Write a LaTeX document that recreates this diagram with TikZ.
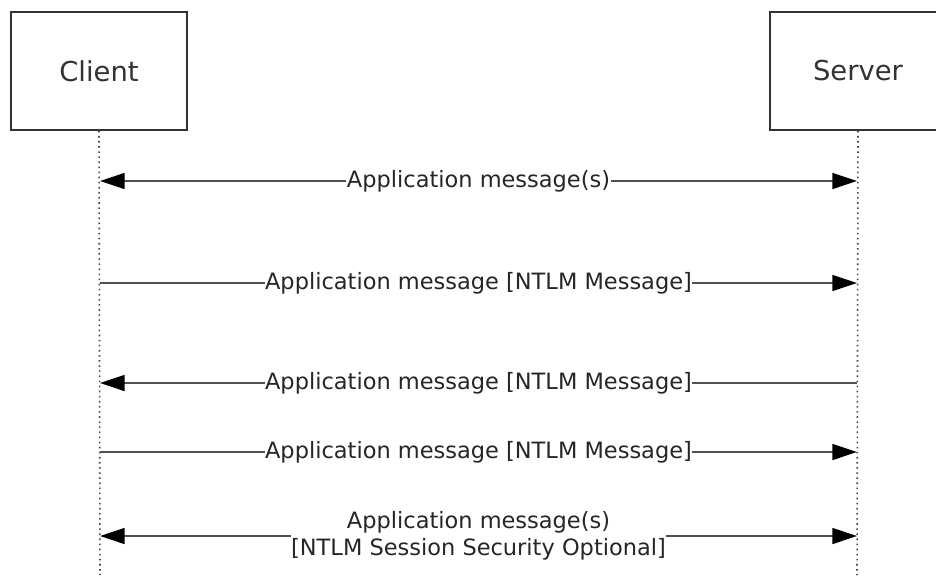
\documentclass[tikz,border=0pt]{standalone}
\usepackage{fontspec}
\setmainfont{DejaVu Sans}
\usetikzlibrary{arrows.meta}
\definecolor{lifegray}{RGB}{70,70,70}
\definecolor{msggray}{RGB}{80,80,80}

\begin{document}
\begin{tikzpicture}[x=0.02cm, y=-0.02cm,
    party/.style={rectangle, draw=black!80, line width=1pt, fill=white, minimum width=176*0.02cm, minimum height=118*0.02cm, font=\fontsize{15.6}{17}\selectfont, text=black!80},
    life/.style={lifegray, dotted, line width=0.9pt},
    msg/.style={msggray, line width=1.2pt, -{Triangle[length=14pt, width=9pt, black]}},
    bimsg/.style={msggray, line width=1.2pt, {Triangle[length=14pt, width=9pt, black]}-{Triangle[length=14pt, width=9pt, black]}},
    lbl/.style={fill=white, inner xsep=0.3pt, inner ysep=1pt, font=\fontsize{12.8}{15.5}\selectfont, text=black!85, align=center}
]
    \useasboundingbox (0,0) rectangle (936,575);

    \node[party] (client) at (99,71) {Client};
    \node[party] (server) at (858,71) {Server};

    \coordinate (cend) at (100,575);
    \coordinate (send) at (857,575);
    \draw[life] (client.south) -- (cend);
    \draw[life] (server.south) -- (send);

    \coordinate (c1) at (100,181); \coordinate (s1) at (857,181);
    \coordinate (c2) at (100,283); \coordinate (s2) at (857,283);
    \coordinate (c3) at (100,383); \coordinate (s3) at (857,383);
    \coordinate (c4) at (100,452); \coordinate (s4) at (857,452);
    \coordinate (c5) at (100,536); \coordinate (s5) at (857,536);

    \draw[bimsg] (c1) -- node[lbl] (m1) {Application message(s)} (s1);
    \draw[msg] (c2) -- node[lbl] (m2) {Application message [NTLM Message]} (s2);
    \draw[msg] (s3) -- node[lbl] (m3) {Application message [NTLM Message]} (c3);
    \draw[msg] (c4) -- node[lbl] (m4) {Application message [NTLM Message]} (s4);
    \draw[bimsg] (c5) -- node[lbl] (m5) {Application message(s)\\{}[NTLM Session Security Optional]} (s5);
\end{tikzpicture}
\end{document}
